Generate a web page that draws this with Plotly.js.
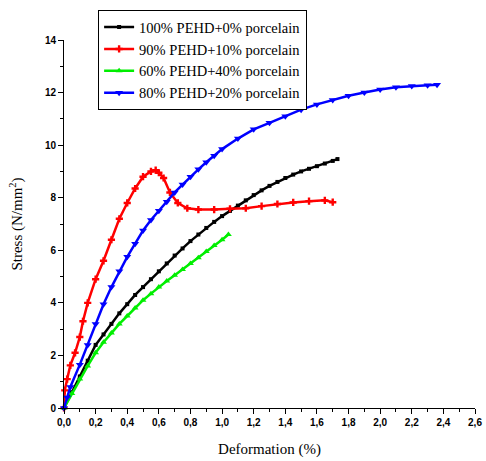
<!DOCTYPE html>
<html>
<head>
<meta charset="utf-8">
<script src="https://cdn.plot.ly/plotly-3.0.1.min.js"></script>
<style>html,body{margin:0;padding:0;background:#fff;}#chart{width:486px;height:461px;}</style>
</head>
<body>
<div id="chart"></div>
<script>
// 100% PEHD + 0% porcelain
var blackX = [0, 0.05, 0.1, 0.15, 0.2, 0.25, 0.3, 0.35, 0.4, 0.45, 0.5, 0.55, 0.6, 0.65, 0.7, 0.75, 0.8, 0.85, 0.9, 0.95, 1.0, 1.05, 1.1, 1.15, 1.2, 1.25, 1.3, 1.35, 1.4, 1.45, 1.5, 1.55, 1.6, 1.65, 1.7, 1.73];
var blackY = [0, 0.6, 1.2, 1.8, 2.4, 2.8, 3.2, 3.6, 3.95, 4.3, 4.6, 4.9, 5.2, 5.5, 5.8, 6.07, 6.35, 6.6, 6.85, 7.08, 7.3, 7.5, 7.7, 7.9, 8.1, 8.28, 8.45, 8.6, 8.75, 8.88, 9.0, 9.1, 9.2, 9.3, 9.4, 9.47];
// 90% PEHD + 10% porcelain
var redX = [0, 0.005, 0.02, 0.04, 0.07, 0.1, 0.12, 0.15, 0.2, 0.25, 0.3, 0.35, 0.4, 0.45, 0.5, 0.55, 0.58, 0.6, 0.63, 0.67, 0.72, 0.78, 0.85, 0.95, 1.05, 1.15, 1.25, 1.35, 1.45, 1.55, 1.65, 1.7];
var redY = [0, 0.67, 1.1, 1.62, 2.1, 2.7, 3.3, 4.0, 4.9, 5.6, 6.4, 7.2, 7.8, 8.35, 8.8, 9.0, 9.05, 8.95, 8.75, 8.2, 7.8, 7.6, 7.55, 7.55, 7.58, 7.6, 7.68, 7.76, 7.82, 7.87, 7.9, 7.83];
// 60% PEHD + 40% porcelain
var greenX = [0, 0.05, 0.1, 0.15, 0.2, 0.25, 0.3, 0.35, 0.4, 0.45, 0.5, 0.55, 0.6, 0.65, 0.7, 0.75, 0.8, 0.85, 0.9, 0.95, 1.0, 1.04];
var greenY = [0, 0.55, 1.1, 1.6, 2.1, 2.5, 2.85, 3.2, 3.5, 3.8, 4.1, 4.35, 4.6, 4.83, 5.05, 5.27, 5.5, 5.72, 5.95, 6.18, 6.4, 6.6];
// 80% PEHD + 20% porcelain
var blueX = [0, 0.02, 0.04, 0.1, 0.15, 0.2, 0.25, 0.3, 0.35, 0.4, 0.45, 0.5, 0.55, 0.6, 0.65, 0.7, 0.75, 0.8, 0.85, 0.9, 0.95, 1.0, 1.1, 1.2, 1.3, 1.4, 1.5, 1.6, 1.7, 1.8, 1.9, 2.0, 2.1, 2.2, 2.3, 2.36];
var blueY = [0, 0.4, 0.8, 1.65, 2.4, 3.2, 3.95, 4.6, 5.2, 5.75, 6.25, 6.75, 7.15, 7.5, 7.85, 8.2, 8.5, 8.8, 9.08, 9.35, 9.6, 9.85, 10.25, 10.6, 10.85, 11.1, 11.35, 11.55, 11.72, 11.88, 12.0, 12.12, 12.2, 12.25, 12.28, 12.3];

var seriesNames = ["100% PEHD+0% porcelain", "90% PEHD+10% porcelain", "60% PEHD+40% porcelain", "80% PEHD+20% porcelain"];
var xTicks = [0, 0.2, 0.4, 0.6, 0.8, 1.0, 1.2, 1.4, 1.6, 1.8, 2.0, 2.2, 2.4, 2.6];
var yTicks = [0, 2, 4, 6, 8, 10, 12, 14];

function tr(x, y, name, color, sym, size) {
  return {
    x: x, y: y, name: name, type: 'scatter', mode: 'lines+markers',
    line: {color: color, width: 2.5, dash: 'solid'},
    marker: {color: color, symbol: sym, size: size},
    cliponaxis: false
  };
}

var data = [
  tr(blackX, blackY, seriesNames[0], '#000000', 'square', 4),
  tr(redX, redY, seriesNames[1], '#ff0000', 'cross', 6),
  tr(greenX, greenY, seriesNames[2], '#00ee00', 'triangle-up', 6),
  tr(blueX, blueY, seriesNames[3], '#0000ff', 'triangle-down', 7)
];

var serif = 'Liberation Serif, Times New Roman, serif';
var tickFont = {family: 'Liberation Sans, Arial, sans-serif', size: 10, color: '#000', weight: 'bold'};
var layout = {
  width: 486, height: 461,
  margin: {l: 64, r: 11, t: 40, b: 53, autoexpand: false},
  paper_bgcolor: '#fff', plot_bgcolor: '#fff',
  separators: ',.',
  showlegend: true,
  legend: {
    x: 0.083, y: 1.081, xanchor: 'left', yanchor: 'top',
    bgcolor: '#fff', bordercolor: '#000', borderwidth: 1,
    font: {family: serif, size: 14.5, color: '#000'},
    itemwidth: 30, tracegroupgap: 0
  },
  xaxis: {
    range: [0, 2.6], tickvals: xTicks, tickformat: '.1f',
    showgrid: false, zeroline: false, showline: true, linecolor: '#000', linewidth: 1,
    ticks: 'outside', ticklen: 5, tickcolor: '#000', tickfont: tickFont,
    minor: {dtick: 0.1, ticks: 'outside', ticklen: 3, tickcolor: '#000', showgrid: false},
    title: {text: 'Deformation (%)', font: {family: serif, size: 15, color: '#000'}, standoff: 16}
  },
  yaxis: {
    range: [0, 14], tickvals: yTicks,
    showgrid: false, zeroline: false, showline: true, linecolor: '#000', linewidth: 1,
    ticks: 'outside', ticklen: 5, tickcolor: '#000', tickfont: tickFont,
    minor: {dtick: 1, ticks: 'outside', ticklen: 3, tickcolor: '#000', showgrid: false},
    title: {text: 'Stress (N/mm<sup>2</sup>)', font: {family: serif, size: 15, color: '#000'}, standoff: 18}
  }
};

Plotly.newPlot('chart', data, layout, {displayModeBar: false, staticPlot: true});
</script>
</body>
</html>
